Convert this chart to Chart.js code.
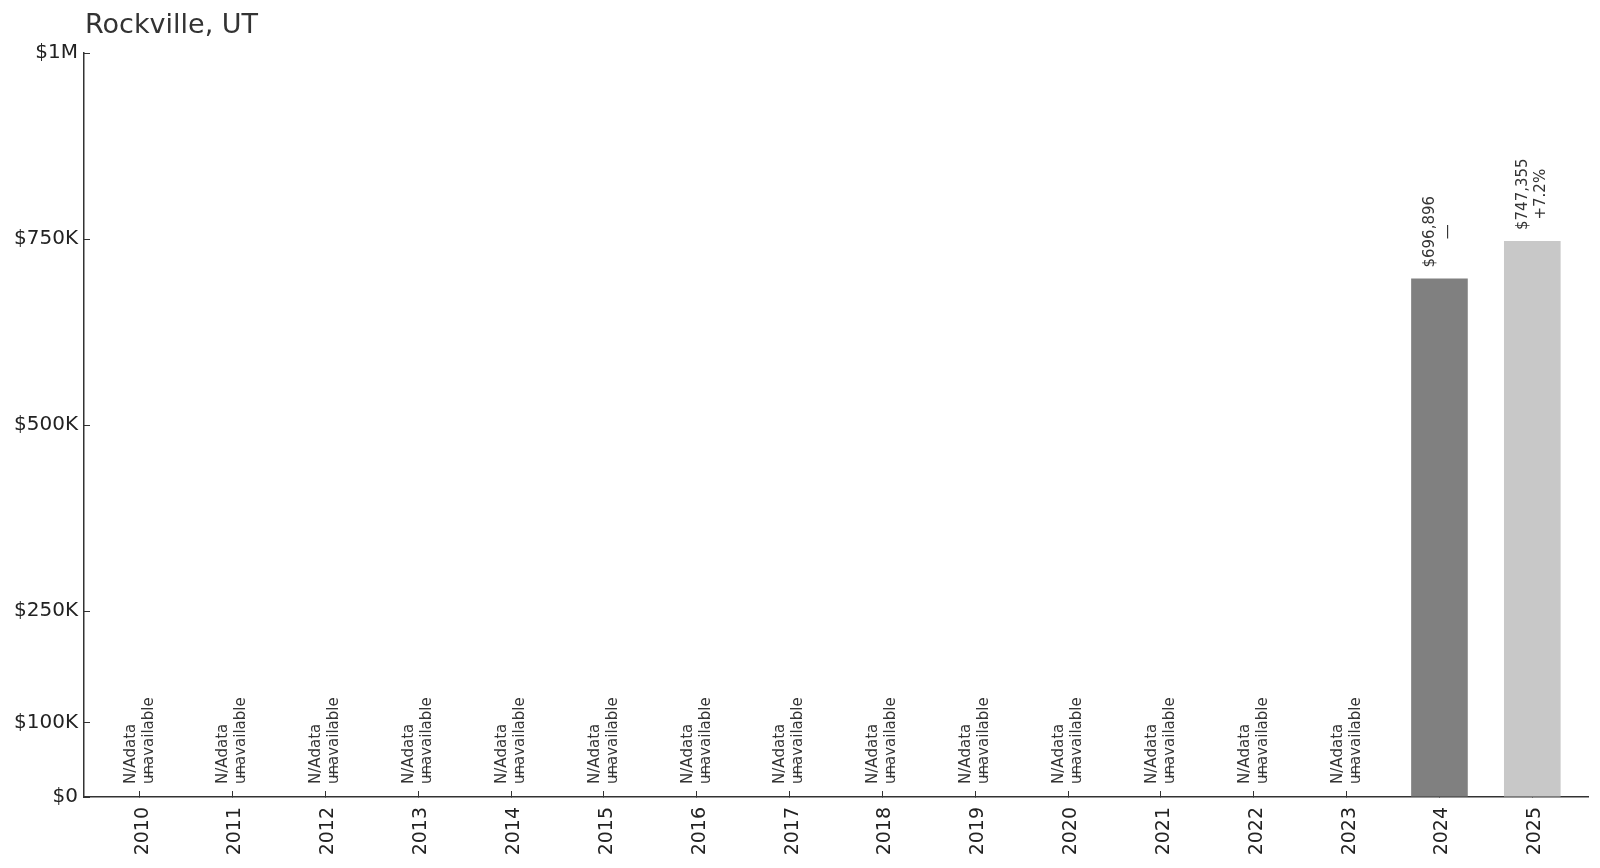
<!DOCTYPE html>
<html>
<head>
<meta charset="utf-8">
<script src="https://cdn.jsdelivr.net/npm/chart.js@4.4.1/dist/chart.umd.min.js"></script>
<style>
  html, body { margin: 0; padding: 0; background: #fff; overflow: hidden; }
  #wrap { width: 1600px; height: 868px; }
  canvas { display: block; }
</style>
</head>
<body>
<div id="wrap"><canvas id="chart" width="1600" height="868"></canvas></div>
<script>
const title = "Rockville, UT";
const years = ["2010", "2011", "2012", "2013", "2014", "2015", "2016", "2017", "2018", "2019", "2020", "2021", "2022", "2023", "2024", "2025"];
const values = [null, null, null, null, null, null, null, null, null, null, null, null, null, null, 696896, 747355];
const changes = ["", "", "", "", "", "", "", "", "", "", "", "", "", "", "—", "+7.2%"];
const barColors = ["#808080", "#808080", "#808080", "#808080", "#808080", "#808080", "#808080", "#808080", "#808080", "#808080", "#808080", "#808080", "#808080", "#808080", "#808080", "#c8c8c8"];
const yTicks = [0, 100000, 250000, 500000, 750000, 1000000];
const yTickLabels = ["$0", "$100K", "$250K", "$500K", "$750K", "$1M"];

const FONT = "DejaVu Sans";

function money(v) {
  return "$" + v.toLocaleString("en-US");
}

// rotated multi-line label, lines centred on each other, bottom at y
function rotatedLines(ctx, x, y, lines, size) {
  const lh = size * 1.2;
  ctx.font = size + "px '" + FONT + "'";
  const widths = lines.map((l) => ctx.measureText(l).width);
  const maxW = Math.max(...widths);
  ctx.save();
  ctx.translate(x, y);
  ctx.rotate(-Math.PI / 2);
  lines.forEach((l, i) => {
    const off = (i - (lines.length - 1) / 2) * lh;
    ctx.textAlign = "left";
    ctx.textBaseline = "middle";
    ctx.fillText(l, (maxW - widths[i]) / 2, off);
  });
  ctx.restore();
}

const labelsPlugin = {
  id: "barLabels",
  afterDatasetsDraw(chart) {
    const { ctx, scales } = chart;
    const xs = scales.x, ys = scales.y;
    ctx.save();
    ctx.fillStyle = "#333";
    values.forEach((v, i) => {
      const x = xs.getPixelForValue(i);
      if (v === null) {
        const y = ys.getPixelForValue(0) - 13;
        rotatedLines(ctx, x, y, ["N/A", "—"], 15);
        rotatedLines(ctx, x, y, ["data", "unavailable"], 15);
      } else {
        const y = ys.getPixelForValue(v) - 11;
        rotatedLines(ctx, x, y, [money(v), changes[i]], 15);
      }
    });
    // title
    ctx.fillStyle = "#333";
    ctx.font = "27px '" + FONT + "'";
    ctx.textAlign = "left";
    ctx.textBaseline = "alphabetic";
    ctx.fillText(title, chart.chartArea.left + 1, 33);
    ctx.restore();
  }
};

new Chart(document.getElementById("chart"), {
  type: "bar",
  data: {
    datasets: [{
      data: values.map((v, i) => ({ x: i, y: v })),
      backgroundColor: barColors,
      barPercentage: 0.61,
      categoryPercentage: 1
    }]
  },
  options: {
    responsive: false,
    animation: false,
    devicePixelRatio: 1,
    layout: { padding: { top: 53, right: 12, left: 0, bottom: 0 } },
    plugins: { legend: { display: false }, tooltip: { enabled: false }, title: { display: false } },
    scales: {
      x: {
        type: "linear",
        min: -0.6,
        max: 15.6,
        offset: false,
        afterBuildTicks: (s) => { s.ticks = years.map((y, i) => ({ value: i })); },
        afterFit: (s) => { s.height = 71; },
        // negative tick length draws the tick marks inward
        grid: { offset: false, drawOnChartArea: false, drawTicks: true, tickLength: -6, color: "#333" },
        border: { display: true, color: "#333", width: 1.5 },
        ticks: {
          minRotation: 90, maxRotation: 90, padding: 16, autoSkip: false, labelOffset: 3,
          color: "#222", font: { family: FONT, size: 19 },
          callback: (v) => years[v]
        }
      },
      y: {
        min: 0,
        max: 1000000,
        afterBuildTicks: (s) => { s.ticks = yTicks.map((v) => ({ value: v })); },
        afterFit: (s) => { s.width = 84; },
        grid: { drawOnChartArea: false, drawTicks: true, tickLength: -6, color: "#333" },
        border: { display: true, color: "#333", width: 1.5 },
        ticks: {
          padding: 12, color: "#222", font: { family: FONT, size: 20 },
          callback: (v) => yTickLabels[yTicks.indexOf(v)]
        }
      }
    }
  },
  plugins: [labelsPlugin]
});
</script>
</body>
</html>
